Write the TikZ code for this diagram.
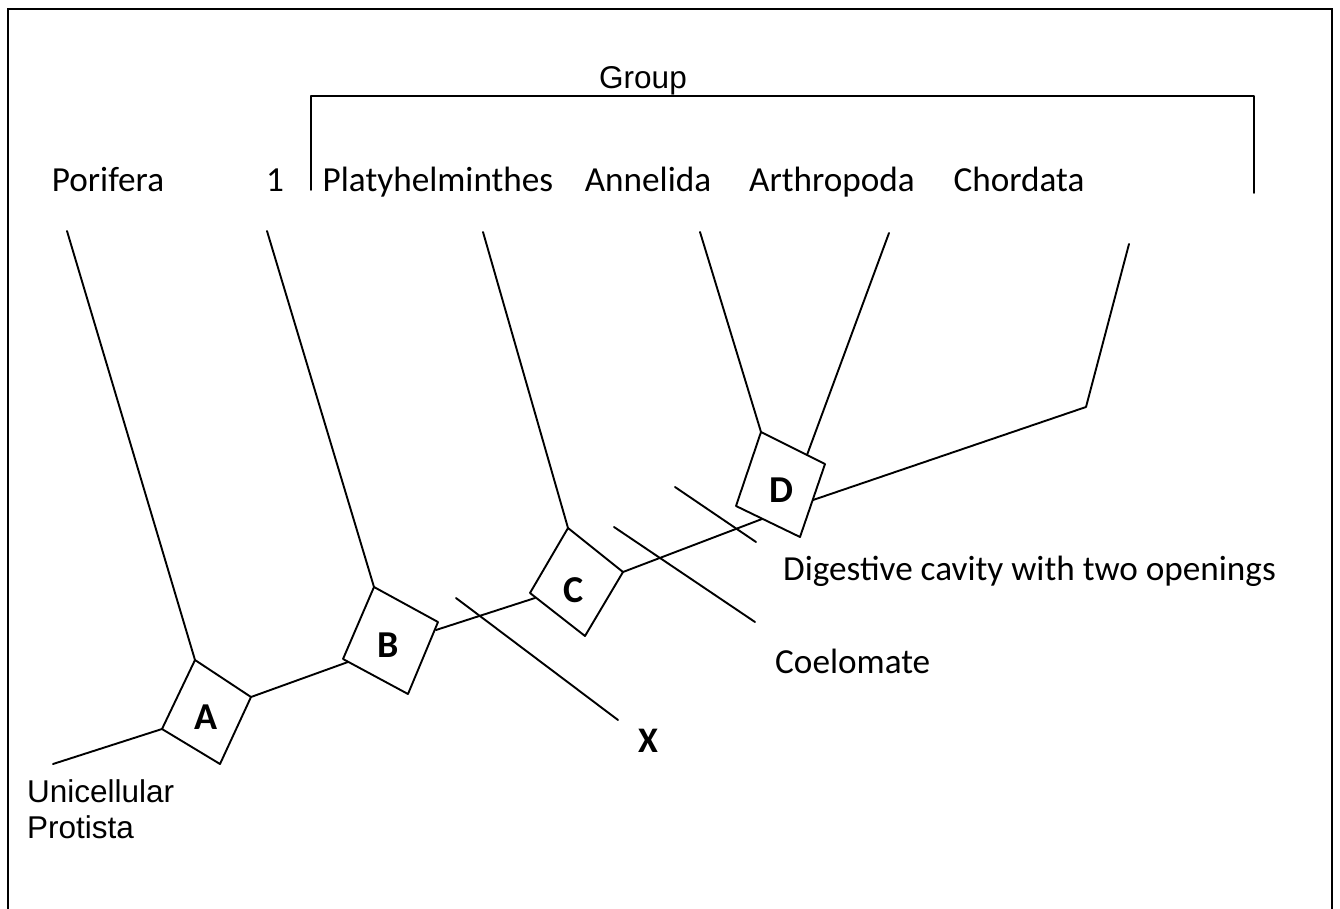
\documentclass[tikz,border=0pt]{standalone}
\usepackage{fontspec}
\setmainfont{Carlito}
\newfontfamily\arialf{Liberation Sans}
\begin{document}
\begin{tikzpicture}[x=1pt,y=-1pt,
  ln/.style={line width=1.9pt,line cap=round,line join=round},
  frame/.style={line width=1.6pt},
  taxon/.style={font=\fontsize{35.2}{40}\selectfont,inner sep=0pt,anchor=base},
  trait/.style={font=\fontsize{35.2}{40}\selectfont,inner sep=0pt,anchor=base west},
  arl/.style={font=\arialf\fontsize{31.5}{36}\selectfont,inner sep=0pt},
  boxlbl/.style={font=\bfseries\fontsize{38}{40}\selectfont,inner sep=0pt}]
\useasboundingbox (0,0) rectangle (1340,909);
% frame
\draw[frame] (8,909) -- (8,9) -- (1332,9) -- (1332,909);

% group bracket
\node[arl,anchor=base] (group) at (643,89) {Group};
\coordinate (gl) at (311,96);
\coordinate (gr) at (1254,96);
\coordinate (glb) at (311,190);
\coordinate (grb) at (1254,193);
\draw[ln] (glb) -- (gl) -- (gr) -- (grb);

% taxa labels
\node[taxon] (por) at (108,192) {Porifera};
\node[taxon] (one) at (275,192) {1};
\node[taxon] (pla) at (438,192) {Platyhelminthes};
\node[taxon] (ann) at (648,192) {Annelida};
\node[taxon] (art) at (832,192) {Arthropoda};
\node[taxon] (cho) at (1019,192) {Chordata};

% branch tips
\coordinate (porT) at (67,231);
\coordinate (oneT) at (267,231);
\coordinate (plaT) at (483,232);
\coordinate (annT) at (700,232);
\coordinate (artT) at (889,233);
\coordinate (choT) at (1129,244);
\coordinate (choE) at (1086,407);

% boxes (corners)
\coordinate (A-t) at (195,660); \coordinate (A-r) at (251,697);
\coordinate (A-b) at (220,764); \coordinate (A-l) at (162,729);
\coordinate (B-t) at (374,587); \coordinate (B-r) at (438,622);
\coordinate (B-b) at (408,694); \coordinate (B-l) at (343,659);
\coordinate (C-t) at (568,528); \coordinate (C-r) at (623,572);
\coordinate (C-b) at (585,636); \coordinate (C-l) at (530,593);
\coordinate (D-t) at (761,432); \coordinate (D-r) at (825,464);
\coordinate (D-b) at (800,537); \coordinate (D-l) at (736,506);
\draw[ln] (A-t) -- (A-r) -- (A-b) -- (A-l) -- cycle;
\draw[ln] (B-t) -- (B-r) -- (B-b) -- (B-l) -- cycle;
\draw[ln] (C-t) -- (C-r) -- (C-b) -- (C-l) -- cycle;
\draw[ln] (D-t) -- (D-r) -- (D-b) -- (D-l) -- cycle;
\node[boxlbl] (Alab) at (206,717) {A};
\node[boxlbl] (Blab) at (388,645) {B};
\node[boxlbl] (Clab) at (574,590) {C};
\node[boxlbl] (Dlab) at (781,490) {D};

% attachment points on box edges
\coordinate (B-in) at (348,662);
\coordinate (B-out) at (436,630);
\coordinate (C-in) at (535,598);
\coordinate (D-in) at (762,519);
\coordinate (D-art) at (807,455);
\coordinate (D-cho) at (813,500);

% root
\coordinate (root) at (53,764);
\node[arl,anchor=base west] (uni) at (27,802) {Unicellular};
\node[arl,anchor=base west] (pro) at (27,838) {Protista};

% branches
\draw[ln] (root) -- (A-l);
\draw[ln] (porT) -- (A-t);
\draw[ln] (A-r) -- (B-in);
\draw[ln] (oneT) -- (B-t);
\draw[ln] (B-out) -- (C-in);
\draw[ln] (plaT) -- (C-t);
\draw[ln] (C-r) -- (D-in);
\draw[ln] (annT) -- (D-t);
\draw[ln] (artT) -- (D-art);
\draw[ln] (choT) -- (choE) -- (D-cho);

% trait ticks
\coordinate (x1) at (456,598); \coordinate (x2) at (618,720);
\coordinate (c1) at (614,527); \coordinate (c2) at (755,622);
\coordinate (d1) at (675,487); \coordinate (d2) at (756,542);
\draw[ln] (x1) -- (x2);
\draw[ln] (c1) -- (c2);
\draw[ln] (d1) -- (d2);
\node[boxlbl,font=\bfseries\fontsize{36}{40}\selectfont] (X) at (648,741) {X};
\node[trait] (coel) at (775,673) {Coelomate};
\node[trait] (dig) at (783,580) {Digestive cavity with two openings};
\end{tikzpicture}
\end{document}
